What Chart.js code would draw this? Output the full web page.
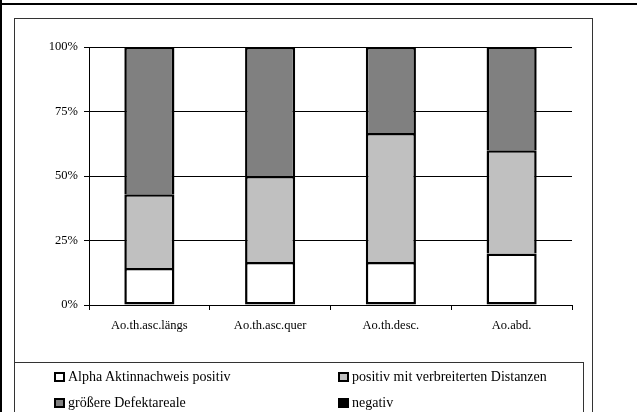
<!DOCTYPE html>
<html>
<head>
<meta charset="utf-8">
<script src="https://cdn.jsdelivr.net/npm/chart.js@4/dist/chart.umd.min.js"></script>
<style>
  html, body { margin: 0; padding: 0; background: #fff; }
  #wrap { position: relative; width: 637px; height: 412px; overflow: hidden; background: #fff; }
  #chart { position: absolute; left: 0; top: 0; }
  .line { position: absolute; background: #000; }
  .frame { position: absolute; border: 1px solid #333; box-sizing: border-box; pointer-events: none; }
  .legend-item { position: absolute; display: flex; align-items: center;
    font-family: "Liberation Serif", "Times New Roman", serif; font-size: 14px; color: #000; white-space: nowrap; }
  .legend-box { width: 11px; height: 10px; border: 2px solid #000; box-sizing: border-box; margin-right: 3px; }
</style>
</head>
<body>
<div id="wrap">
  <div class="line" style="left:0; top:3px; width:637px; height:2px;"></div>
  <div class="line" style="left:0; top:0; width:2px; height:412px;"></div>
  <div class="frame" style="left:14px; top:18px; width:579px; height:420px;"></div>
  <div class="frame" style="left:14px; top:362px; width:570px; height:70px;"></div>
  <canvas id="chart" width="637" height="412"></canvas>
  <div id="legend"></div>
</div>
<script>
// Stellen der Aorta
const categories = ['Ao.th.asc.längs', 'Ao.th.asc.quer', 'Ao.th.desc.', 'Ao.abd.'];

// Anteile je Befundgruppe in Prozent
const alphaAktinPositiv = [14.3, 16.7, 16.7, 20.0];
const verbreiterteDistanzen = [28.6, 33.3, 50.0, 40.0];
const groessereDefektareale = [57.1, 50.0, 33.3, 40.0];
const negativ = [0, 0, 0, 0];

// Achsenteilung der Prozentachse
const yTicks = [0, 25, 50, 75, 100];

const seriesNames = [
  'Alpha Aktinnachweis positiv',
  'positiv mit verbreiterten Distanzen',
  'größere Defektareale',
  'negativ'
];
const seriesColors = ['#ffffff', '#c0c0c0', '#808080', '#000000'];
const seriesValues = [alphaAktinPositiv, verbreiterteDistanzen, groessereDefektareale, negativ];

const FONT = { family: '"Liberation Serif", "Times New Roman", serif', size: 12.5 };

const datasets = seriesValues.map((vals, i) => ({
  label: seriesNames[i],
  data: vals,
  backgroundColor: seriesColors[i],
  borderColor: '#000',
  borderWidth: i === 3 ? 0 : 2.5,
  borderSkipped: i === 0 ? false : 'start',
  categoryPercentage: 1.0,
  barPercentage: 0.415
}));

new Chart(document.getElementById('chart'), {
  type: 'bar',
  data: { labels: categories, datasets },
  options: {
    responsive: false,
    animation: false,
    devicePixelRatio: 1,
    layout: { padding: { left: 0, top: 47, right: 65, bottom: 0 } },
    plugins: { legend: { display: false }, tooltip: { enabled: false } },
    scales: {
      x: {
        stacked: true,
        grid: { offset: true, drawOnChartArea: false, drawTicks: true, tickLength: 5, color: '#000' },
        border: { display: true, color: '#000', width: 1 },
        ticks: { font: FONT, color: '#000', padding: 8, maxRotation: 0, autoSkip: false },
        afterFit(s) { s.height = 412 - 305; }
      },
      y: {
        stacked: true,
        min: 0,
        max: 100,
        afterBuildTicks(s) { s.ticks = yTicks.map(v => ({ value: v })); },
        grid: { color: '#000', tickLength: 5, lineWidth: 1 },
        border: { display: true, color: '#000', width: 1 },
        ticks: { font: FONT, color: '#000', padding: 6, callback: v => v + '%' },
        afterFit(s) { s.width = 89; }
      }
    }
  }
});

// Legende in zwei Spalten
const legend = document.getElementById('legend');
const legendPos = [[54, 377], [338, 377], [54, 403], [338, 403]];
seriesNames.forEach((name, i) => {
  const item = document.createElement('div');
  item.className = 'legend-item';
  item.style.left = legendPos[i][0] + 'px';
  item.style.top = (legendPos[i][1] - 8) + 'px';
  item.style.height = '16px';
  const box = document.createElement('span');
  box.className = 'legend-box';
  box.style.background = seriesColors[i];
  const txt = document.createElement('span');
  txt.textContent = name;
  item.appendChild(box);
  item.appendChild(txt);
  legend.appendChild(item);
});
</script>
</body>
</html>
